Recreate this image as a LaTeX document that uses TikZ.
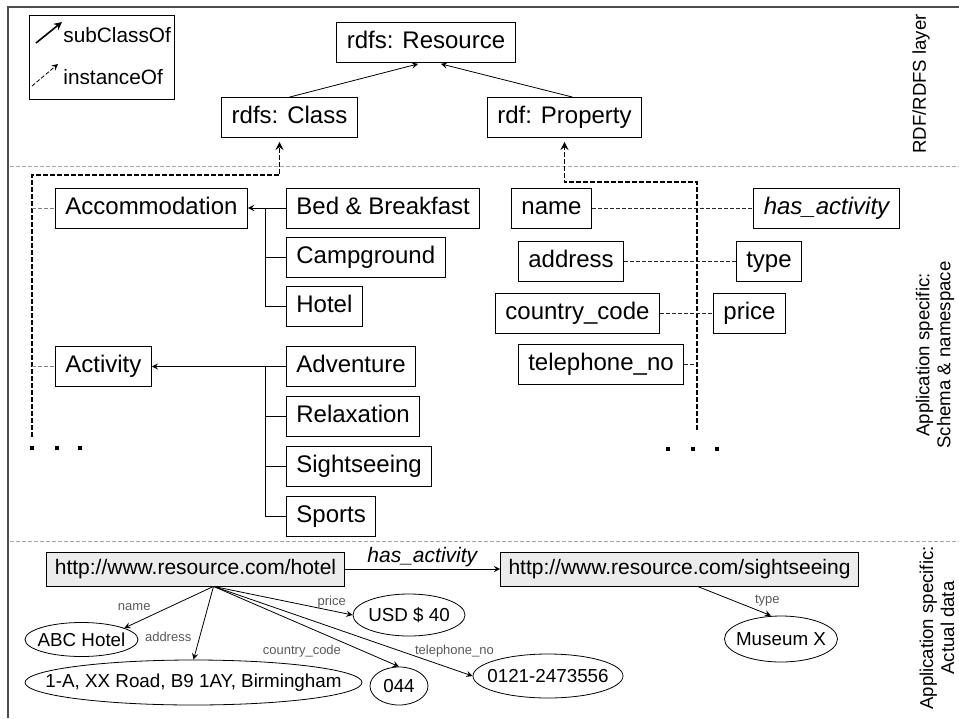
\documentclass[tikz,border=0pt]{standalone}
\usepackage{fontspec}
\setmainfont{Liberation Sans}
\usetikzlibrary{shapes.geometric,calc}

\tikzset{
  box/.style={draw, minimum height=20pt, inner xsep=5pt, inner ysep=0pt, text height=8.7pt, text depth=2.6pt, font=\fontsize{12}{14}\selectfont},
  uri/.style={draw, fill=gray!15, minimum height=17pt, inner xsep=4pt, inner ysep=0pt, text height=7.6pt, text depth=2.2pt, font=\fontsize{10.5}{12}\selectfont},
  lit/.style={draw, ellipse, inner sep=0pt, font=\fontsize{9.4}{11}\selectfont},
  lbl/.style={font=\fontsize{6.5}{7}\selectfont, text=gray!70!black, inner sep=1pt},
  sidelbl/.style={rotate=90, align=center, font=\fontsize{9.3}{10.5}\selectfont},
  legtext/.style={anchor=west, inner sep=0pt, font=\fontsize{10.4}{12}\selectfont},
  inst/.style={->, line width=0.8pt, dash pattern=on 2.5pt off 1pt, shorten >=2pt},
  link/.style={gray!30!black, line width=0.4pt, dash pattern=on 2pt off 1pt},
  sep/.style={gray!70, line width=0.5pt, dash pattern=on 2pt off 1pt},
}
\newcommand{\inell}[1]{\makebox[0pt]{#1}}

\begin{document}
\begin{tikzpicture}[x=0.5pt, y=-0.5pt, >=stealth]
\useasboundingbox (0,0) rectangle (959,718);
% frame and layer separators
\draw[line width=1pt, gray!60!black] (8,718) -- (8,7) -- (959,7);
\draw[sep] (10,166) -- (959,166);
\draw[sep] (10,541) -- (959,541);

% legend
\node[draw, minimum width=72.5pt, minimum height=42pt, inner sep=0pt] (legend) at (101.5,57) {};
\coordinate (subA) at (36,43);
\coordinate (subB) at (62,22);
\coordinate (insA) at (32,86);
\coordinate (insB) at (58,64);
\draw[->, thick] (subA) -- (subB);
\draw[->, dash pattern=on 2pt off 1pt] (insA) -- (insB);
\node[legtext] (subtxt) at (63,35) {subClassOf};
\node[legtext] (instxt) at (63,77) {instanceOf};

% RDF/RDFS layer
\node[box] (res) at (426,42.5) {rdfs: Resource};
\node[box] (cls) at (289.5,117.5) {rdfs: Class};
\node[box] (prop) at (564.5,117.5) {rdf: Property};
\draw[->, shorten >=2pt] (cls.north) -- ([xshift=-2pt]res.south);
\draw[->, shorten >=2pt] ([xshift=4pt]prop.north) -- ([xshift=5.5pt]res.south);

% schema: classes
\node[box, anchor=west] (acc) at (55,208) {Accommodation};
\node[box, anchor=west] (bnb) at (286,208) {Bed \& Breakfast};
\node[box, anchor=west] (camp) at (286,257) {Campground};
\node[box, anchor=west] (hotel) at (286,306) {Hotel};
\node[box, anchor=west] (act) at (55,366.5) {Activity};
\node[box, anchor=west] (adv) at (286,366.5) {Adventure};
\node[box, anchor=west] (relax) at (286,416) {Relaxation};
\node[box, anchor=west] (sight) at (286,466) {Sightseeing};
\node[box, anchor=west] (sports) at (286,516) {Sports};

\coordinate (acctrunk) at (265,208);
\draw[->] (bnb.west) -- (acc.east);
\draw (camp.west) -- (camp.west -| acctrunk);
\draw (hotel.west) -| (acctrunk);
\coordinate (acttrunk) at (265,366.5);
\draw[->] (adv.west) -- (act.east);
\draw (relax.west) -- (relax.west -| acttrunk);
\draw (sight.west) -- (sight.west -| acttrunk);
\draw (sports.west) -| (acttrunk);

\coordinate (clsleg) at (32,437);
\coordinate (clsbend) at (32,175);
\draw[inst] (clsleg) -- (clsbend) -| ([xshift=-5pt]cls.south);
\draw[link, gray] (acc.west -| clsleg) -- (acc.west);
\draw[link, gray] (act.west -| clsleg) -- (act.west);
\foreach \x in {32,57,80}
  \fill (\x-2,446) rectangle ++(4,4);

% schema: properties
\node[box] (name) at (551.5,208) {name};
\node[box] (hasact) at (826.5,208) {\itshape has\_activity};
\node[box] (address) at (571,261) {address};
\node[box] (type) at (769,261) {type};
\node[box] (ccode) at (577.5,313) {country\_code};
\node[box] (price) at (749.5,313) {price};
\node[box] (tel) at (601,364) {telephone\_no};

\coordinate (propleg) at (697,430);
\coordinate (propbend) at (697,182);
\draw[inst] (propleg) -- (propbend) -| (prop.south);
\draw[link] (name.east) -- (hasact.west);
\draw[link] (address.east) -- (type.west);
\draw[link] (ccode.east) -- (price.west);
\draw[link] (tel.east) -- (tel.east -| propleg);
\foreach \x in {668,693,717}
  \fill (\x-2,447) rectangle ++(4,4);

% actual data
\node[uri] (hoteluri) at (195.5,569) {http://www.resource.com/hotel};
\node[uri] (sighturi) at (679.5,569) {http://www.resource.com/sightseeing};
\draw[->] (hoteluri) -- (sighturi)
  node[midway, above=1pt, inner sep=0pt, font=\itshape\fontsize{10.5}{12}\selectfont] {has\_activity};

\node[lit, minimum width=56.5pt, minimum height=17pt] (abc) at (81.5,639.5) {\inell{ABC Hotel}};
\node[lit, minimum width=168.5pt, minimum height=22.5pt] (street) at (193.5,682.5) {\inell{1-A, XX Road, B9 1AY, Birmingham}};
\node[lit, minimum width=29pt, minimum height=19pt] (ccval) at (399,686) {\inell{044}};
\node[lit, minimum width=56pt, minimum height=21pt] (usd) at (409,615) {\inell{USD \$ 40}};
\node[lit, minimum width=75pt, minimum height=22pt] (phone) at (548,676) {\inell{0121-2473556}};
\node[lit, minimum width=56.5pt, minimum height=23pt] (museum) at (781,639) {\inell{Museum X}};

\coordinate (hsrc) at ([xshift=9pt]hoteluri.south);
\draw[->] (hsrc) -- (abc.15) node[lbl, pos=0.5, left=8pt] {name};
\draw[->] (hsrc) -- (street.north) node[lbl, pos=0.69, left=3pt] {address};
\draw[->] (hsrc) -- (usd.west) node[lbl, pos=0.85, above] {price};
\draw[->] (hsrc) -- (ccval.north) node[lbl, pos=0.7, below left] {country\_code};
\draw[->] (hsrc) -- (phone.west) node[lbl, pos=0.93, above=5pt] {telephone\_no};
\draw[->] ([xshift=9pt]sighturi.south) -- ([xshift=-5pt]museum.north)
  node[lbl, pos=0.75, above right] {type};

% layer captions
\node[sidelbl] (toplbl) at (921,84) {RDF/RDFS layer};
\node[sidelbl] (midlbl) at (935,355) {Application specific:\\Schema \& namespace};
\node[sidelbl] (botlbl) at (937,628) {Application specific:\\Actual data};
\end{tikzpicture}
\end{document}
